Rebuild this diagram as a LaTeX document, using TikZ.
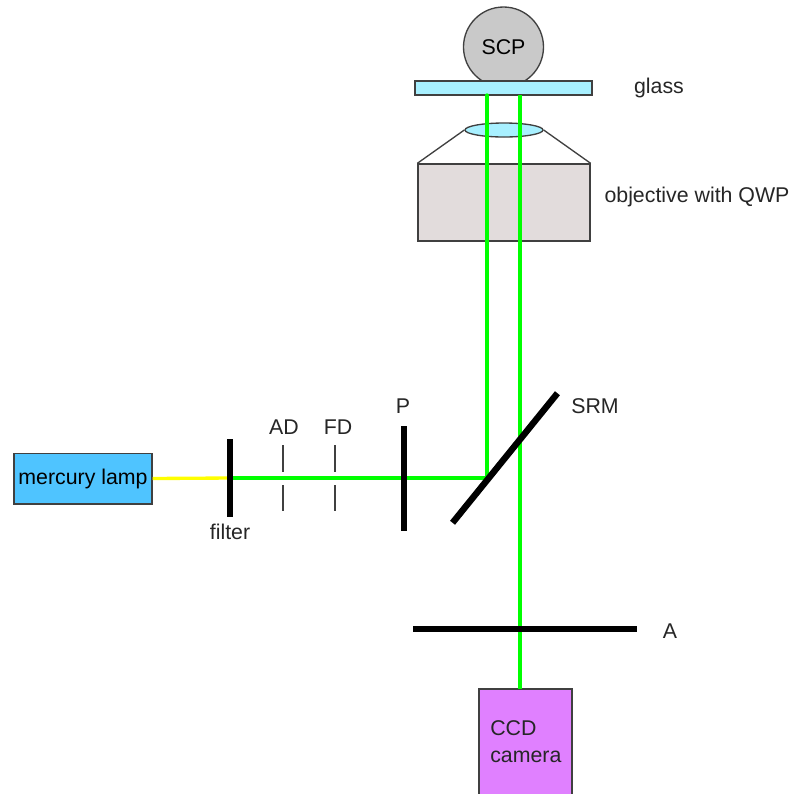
\documentclass[tikz,border=0pt]{standalone}
\usepackage{fontspec}
\setmainfont{Liberation Sans}
\usepackage{tikz}
\usetikzlibrary{positioning,calc,shapes.geometric}
\definecolor{beamgreen}{HTML}{00FF00}
\definecolor{beamyellow}{HTML}{FFFF00}
\definecolor{lampblue}{HTML}{4FC4FF}
\definecolor{ccdpink}{HTML}{E080FF}
\definecolor{glassblue}{HTML}{A8F0FF}
\definecolor{objgray}{HTML}{E2DCDC}
\definecolor{scpgray}{HTML}{C9C9C9}
\definecolor{edgegray}{HTML}{404040}

\begin{document}
\begin{tikzpicture}[
  x=0.75pt,y=-0.75pt,
  box/.style={draw=edgegray,line width=1pt,inner sep=0pt,font=\fontsize{16}{19.5}\selectfont},
  bar/.style={fill=black,inner sep=0pt,minimum width=4.8pt},
  lbl/.style={font=\fontsize{16}{19.5}\selectfont,color=black!85,inner sep=0pt},
  beam/.style={line width=2.5pt,color=beamgreen},
  slit/.style={line width=1.1pt,color=edgegray},
]
  \clip (0,0) rectangle (789,794);

  % sample and glass
  \node[box,circle,fill=scpgray,minimum size=60pt] (scp) at (503.5,47) {SCP};
  \node[box,fill=glassblue,minimum width=132.75pt,minimum height=10.5pt] (glass) at (503.5,88) {};

  % objective
  \node[box,fill=objgray,minimum width=129pt,minimum height=57.75pt] (body) at (504,202.5) {};
  \node[box,ellipse,fill=glassblue,minimum width=58.5pt,minimum height=10.5pt] (lens) at (504,130) {};
  \draw[edgegray,line width=1pt] (body.north west) -- (lens.west);
  \draw[edgegray,line width=1pt] (body.north east) -- (lens.east);

  % light source and camera
  \node[box,fill=lampblue,minimum width=103.5pt,minimum height=38pt] (lamp) at (83,478.5) {mercury lamp};
  \node[box,fill=ccdpink,minimum width=69.75pt,minimum height=82.5pt] (ccd) at (525.5,744) {};

  % beam path
  \coordinate (fc) at (230,478);
  \coordinate (turn) at (487,478);
  \coordinate (topl) at (487,95);
  \coordinate (topr) at (520,95);
  \coordinate (bott) at (520,689);
  \draw[line width=2.5pt,color=beamyellow] (lamp.east) -- (fc);
  \draw[beam,line cap=round] (fc) -- (turn) -- (topl);
  \draw[beam] (topr) -- (bott);

  % optical elements
  \node[bar,minimum height=58.5pt] (filter) at (fc) {};
  \node[bar,minimum height=78.75pt] (pol) at (404,478.5) {};
  \node[bar,minimum height=125pt,rotate=-39] (srm) at (505,458) {};
  \node[bar,minimum width=168pt,minimum height=4pt] (ana) at (525,629) {};

  % diaphragms
  \foreach \nm/\x in {ad/283,fd/335} {
    \coordinate (\nm a) at (\x,445);
    \coordinate (\nm b) at (\x,472);
    \coordinate (\nm c) at (\x,485);
    \coordinate (\nm d) at (\x,511);
    \draw[slit] (\nm a) -- (\nm b);
    \draw[slit] (\nm c) -- (\nm d);
  }

  \node[lbl] (glasslbl) at (659,88) {glass};
  \node[lbl] (objlbl) at (697,197) {objective with QWP};
  \node[lbl] (adlbl) at (284,427) {AD};
  \node[lbl] (fdlbl) at (338,427) {FD};
  \node[lbl] (plbl) at (403,406) {P};
  \node[lbl] (srmlbl) at (595,406) {SRM};
  \node[lbl] (filterlbl) at (230,532) {filter};
  \node[lbl] (alabel) at (670,631) {A};
  \node[lbl,align=left,anchor=north west] (ccdlbl) at (490,720) {CCD\\[1pt]camera};
\end{tikzpicture}
\end{document}
